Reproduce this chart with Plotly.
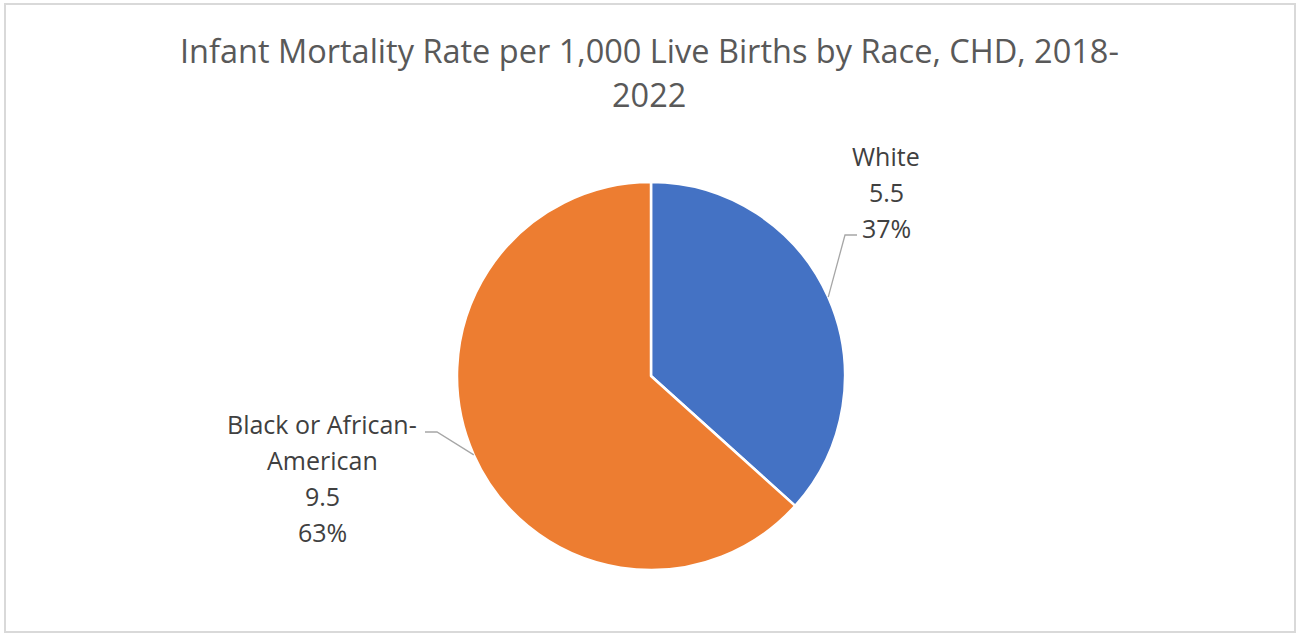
import math
import plotly.graph_objects as go

# Infant mortality rate per 1,000 live births, by race
races = ["White", "Black or African-American"]
rates = [5.5, 9.5]
label_lines = [["White"], ["Black or African-", "American"]]
colors = ["#4472C4", "#ED7D31"]

W, H = 1299, 633
cx, cy, r = 651, 376, 194  # pie centre and radius in pixels

fig = go.Figure(go.Pie(
    labels=races,
    values=rates,
    sort=False,
    direction="clockwise",
    rotation=0,
    marker=dict(colors=colors, line=dict(color="white", width=2.5)),
    textinfo="none",
    hoverinfo="label+value+percent",
    domain=dict(x=[(cx - r) / W, (cx + r) / W], y=[1 - (cy + r) / H, 1 - (cy - r) / H]),
    showlegend=False,
))

total = sum(rates)
# label placement: (text centre x, first line y, elbow x, elbow y, end x)
placements = [
    (886, 156, 845, 235, 857),
    (322, 424, 437, 432, 425),
]

def px(x):
    return x / W

def py(y):
    return 1 - y / H

FONT = "Open Sans, Liberation Sans, sans-serif"

annotations = []
shapes = []
cum = 0.0
for name_lines, val, place in zip(label_lines, rates, placements):
    frac = val / total
    mid = (cum + frac / 2) * 2 * math.pi
    cum += frac
    ex = cx + r * math.sin(mid)
    ey = cy - r * math.cos(mid)
    tx, ty, bx, by, endx = place
    lines = name_lines + [f"{val:g}", f"{round(frac * 100):d}%"]
    for i, line in enumerate(lines):
        annotations.append(dict(
            x=px(tx), y=py(ty + i * 36), xref="paper", yref="paper",
            text=line, showarrow=False, xanchor="center", yanchor="middle",
            font=dict(family=FONT, size=25, color="#404040"),
        ))
    shapes.append(dict(
        type="path", xref="paper", yref="paper",
        path=f"M {px(ex)} {py(ey)} L {px(bx)} {py(by)} L {px(endx)} {py(by)}",
        line=dict(color="#A6A6A6", width=1.3),
    ))

# chart title on two lines
for i, line in enumerate(["Infant Mortality Rate per 1,000 Live Births by Race, CHD, 2018-", "2022"]):
    annotations.append(dict(
        x=px(649), y=py(50 + i * 44), xref="paper", yref="paper",
        text=line, showarrow=False, xanchor="center", yanchor="middle",
        font=dict(family=FONT, size=32.5, color="#595959"),
    ))

# outer chart border
shapes.append(dict(
    type="rect", xref="paper", yref="paper",
    x0=px(5), x1=px(1295), y0=py(632), y1=py(4),
    line=dict(color="#D9D9D9", width=2),
))

fig.update_layout(
    width=W, height=H,
    margin=dict(l=0, r=0, t=0, b=0),
    paper_bgcolor="white",
    plot_bgcolor="white",
    annotations=annotations,
    shapes=shapes,
)

fig.write_html("out.html")
